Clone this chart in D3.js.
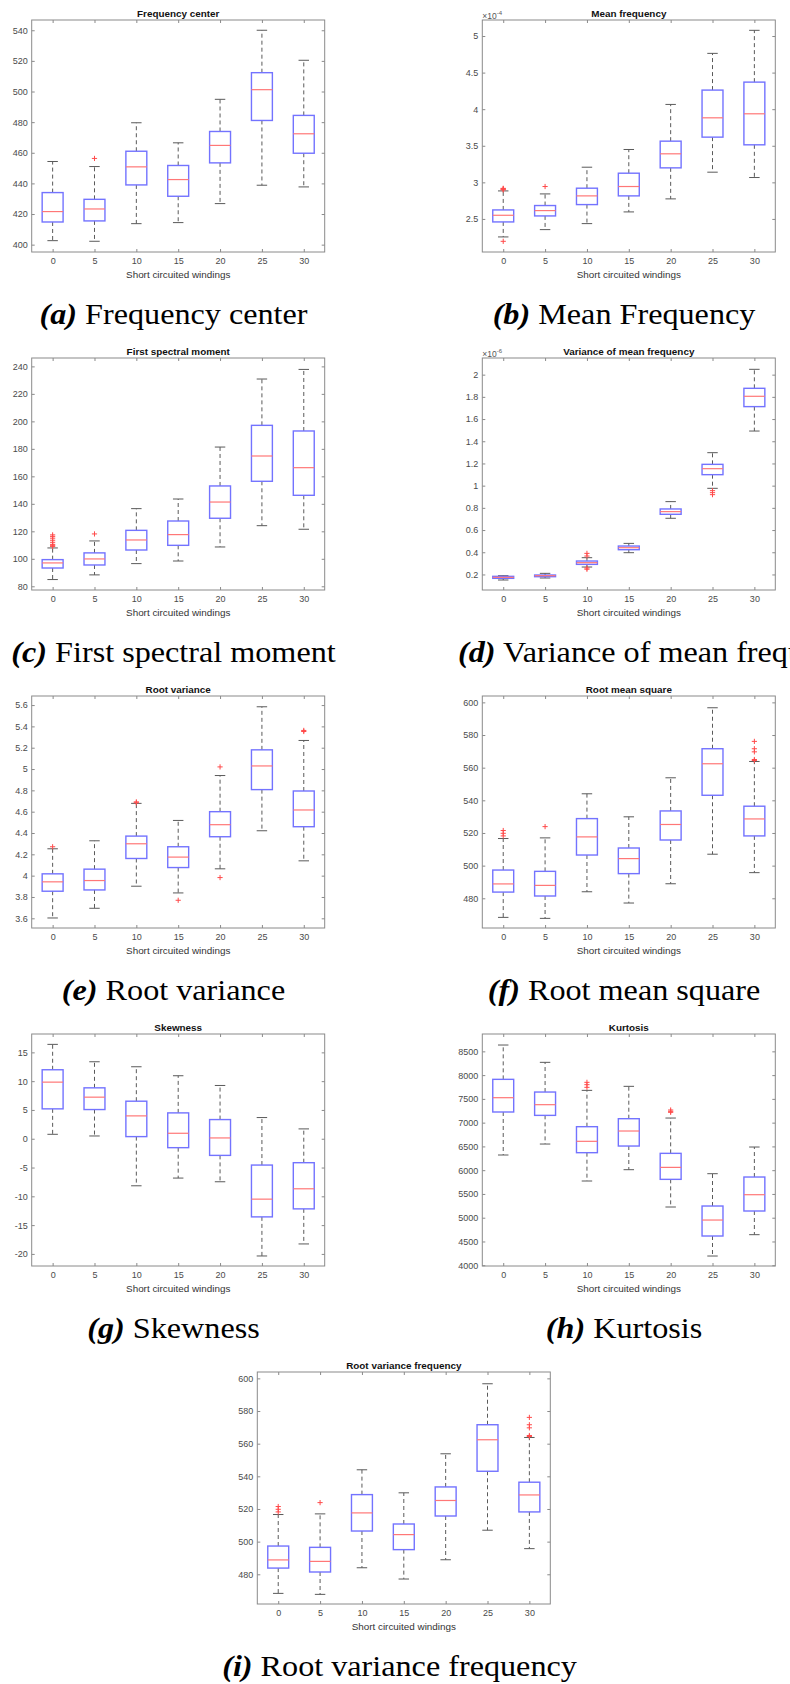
<!DOCTYPE html>
<html>
<head>
<meta charset="utf-8">
<script src="https://cdnjs.cloudflare.com/ajax/libs/d3/7.8.5/d3.min.js"></script>
<style>
  body { margin: 0; background: #fff; }
</style>
</head>
<body>
<svg id="chart"></svg>
<script>
// constants
const width = 790;
const height = 1684;

const groups = [0, 5, 10, 15, 20, 25, 30];

// per group: [lower whisker, q1, median, q3, upper whisker]
const freqCenter = [
  [402.6, 414.8, 421.6, 434.0, 454.3],
  [402.2, 415.5, 423.3, 429.6, 451.0],
  [413.7, 439.0, 450.8, 461.0, 479.6],
  [414.4, 431.6, 442.5, 451.7, 466.5],
  [426.8, 453.4, 464.8, 473.9, 494.9],
  [438.8, 481.1, 501.2, 512.3, 540.0],
  [437.7, 459.7, 472.4, 484.4, 520.4]
];
const freqCenterOut = [[], [456.3], [], [], [], [], []];
const freqCenterTicks = [400, 420, 440, 460, 480, 500, 520, 540];

// x 1e-4
const meanFreq = [
  [2.254, 2.459, 2.550, 2.623, 2.883],
  [2.354, 2.541, 2.614, 2.683, 2.842],
  [2.436, 2.696, 2.815, 2.920, 3.207],
  [2.596, 2.815, 2.943, 3.125, 3.449],
  [2.774, 3.198, 3.390, 3.563, 4.065],
  [3.139, 3.618, 3.882, 4.261, 4.763],
  [3.066, 3.513, 3.937, 4.370, 5.078]
];
const meanFreqOut = [[2.194, 2.897, 2.905, 2.912, 2.918], [2.943], [], [], [], [], []];
const meanFreqTicks = [2.5, 3, 3.5, 4, 4.5, 5];

const firstMoment = [
  [84.9, 93.3, 97.0, 99.4, 107.9],
  [88.3, 95.5, 99.9, 104.3, 113.0],
  [96.5, 106.4, 113.7, 120.7, 136.5],
  [98.4, 109.8, 117.6, 127.5, 143.5],
  [108.6, 129.5, 141.3, 153.0, 181.3],
  [124.1, 156.4, 174.8, 197.1, 230.8],
  [121.5, 146.2, 166.3, 193.0, 237.8]
];
const firstMomentOut = [[109.0, 109.8, 110.5, 112.0, 113.5, 115.0, 116.3, 117.4], [118.1], [], [], [], [], []];
const firstMomentTicks = [80, 100, 120, 140, 160, 180, 200, 220, 240];

// x 1e-6
const varMeanFreq = [
  [0.150, 0.165, 0.174, 0.183, 0.189],
  [0.168, 0.180, 0.189, 0.195, 0.210],
  [0.267, 0.291, 0.306, 0.321, 0.351],
  [0.396, 0.423, 0.441, 0.456, 0.480],
  [0.706, 0.742, 0.766, 0.790, 0.856],
  [0.976, 1.099, 1.153, 1.192, 1.297],
  [1.492, 1.712, 1.805, 1.877, 2.048]
];
const varMeanFreqOut = [[], [], [0.247, 0.258, 0.366, 0.390], [], [], [0.919, 0.937, 0.955], []];
const varMeanFreqTicks = [0.2, 0.4, 0.6, 0.8, 1, 1.2, 1.4, 1.6, 1.8, 2];

const rootVar = [
  [3.603, 3.854, 3.942, 4.017, 4.252],
  [3.694, 3.866, 3.954, 4.061, 4.327],
  [3.901, 4.161, 4.299, 4.371, 4.678],
  [3.838, 4.076, 4.174, 4.271, 4.518],
  [4.064, 4.365, 4.478, 4.600, 4.939],
  [4.421, 4.807, 5.029, 5.180, 5.584],
  [4.139, 4.459, 4.616, 4.794, 5.268]
];
const rootVarOut = [[4.271], [], [4.684, 4.692], [3.769], [3.982, 5.020], [], [5.352, 5.362]];
const rootVarTicks = [3.6, 3.8, 4, 4.2, 4.4, 4.6, 4.8, 5, 5.2, 5.4, 5.6];

const rms = [
  [468.3, 483.8, 488.8, 497.3, 516.6],
  [467.7, 481.4, 487.9, 496.5, 517.0],
  [484.0, 506.5, 517.6, 528.8, 544.0],
  [477.1, 495.1, 504.3, 510.8, 529.9],
  [488.9, 515.7, 525.2, 533.5, 553.8],
  [507.0, 543.1, 562.4, 571.6, 596.7],
  [495.7, 518.2, 528.6, 536.4, 563.8]
];
const rmsOut = [[518.2, 519.8, 521.5], [523.9], [], [], [], [], [564.4, 565.0, 569.7, 571.6, 576.1]];
const rmsTicks = [480, 500, 520, 540, 560, 580, 600];

const skew = [
  [0.77, 5.19, 9.83, 11.98, 16.39],
  [0.48, 5.07, 7.22, 8.84, 13.37],
  [-8.17, 0.37, 3.97, 6.52, 12.50],
  [-6.83, -1.55, 0.95, 4.49, 10.94],
  [-7.47, -2.89, 0.14, 3.33, 9.25],
  [-20.36, -13.57, -10.49, -4.57, 3.68],
  [-18.27, -12.18, -8.69, -4.16, 1.71]
];
const skewOut = [[], [], [], [], [], [], []];
const skewTicks = [-20, -15, -10, -5, 0, 5, 10, 15];

const kurt = [
  [6319, 7224, 7525, 7911, 8633],
  [6550, 7153, 7378, 7644, 8269],
  [5772, 6368, 6607, 6915, 7679],
  [6010, 6508, 6824, 7083, 7764],
  [5225, 5807, 6059, 6354, 7097],
  [4194, 4615, 4951, 5246, 5926],
  [4643, 5141, 5484, 5856, 6487]
];
const kurtOut = [[], [], [7743, 7799, 7848], [], [7217, 7238, 7266], [], []];
const kurtTicks = [4000, 4500, 5000, 5500, 6000, 6500, 7000, 7500, 8000, 8500];

// root variance frequency shows the same boxes as root mean square
const rootVarFreq = rms;
const rootVarFreqOut = rmsOut;

const panels = [
  { title: 'Frequency center', stats: freqCenter, out: freqCenterOut, ticks: freqCenterTicks, domain: [395.2, 546.7], col: 'L', row: 0, tag: '(a)', caption: 'Frequency center' },
  { title: 'Mean frequency', stats: meanFreq, out: meanFreqOut, ticks: meanFreqTicks, domain: [2.048, 5.219], col: 'R', row: 0, tag: '(b)', caption: 'Mean Frequency', exp: '-4' },
  { title: 'First spectral moment', stats: firstMoment, out: firstMomentOut, ticks: firstMomentTicks, domain: [77.3, 246.1], col: 'L', row: 1, tag: '(c)', caption: 'First spectral moment' },
  // this caption runs past the right edge in the original, left aligned
  { title: 'Variance of mean frequency', stats: varMeanFreq, out: varMeanFreqOut, ticks: varMeanFreqTicks, domain: [0.06, 2.15], col: 'R', row: 1, tag: '(d)', caption: 'Variance of mean frequency', exp: '-6', capStart: 458 },
  { title: 'Root variance', stats: rootVar, out: rootVarOut, ticks: rootVarTicks, domain: [3.509, 5.685], col: 'L', row: 2, tag: '(e)', caption: 'Root variance' },
  { title: 'Root mean square', stats: rms, out: rmsOut, ticks: rmsTicks, domain: [461.8, 603.9], col: 'R', row: 2, tag: '(f)', caption: 'Root mean square' },
  { title: 'Skewness', stats: skew, out: skewOut, ticks: skewTicks, domain: [-22.1, 18.19], col: 'L', row: 3, tag: '(g)', caption: 'Skewness' },
  { title: 'Kurtosis', stats: kurt, out: kurtOut, ticks: kurtTicks, domain: [3984, 8865], col: 'R', row: 3, tag: '(h)', caption: 'Kurtosis' },
  { title: 'Root variance frequency', stats: rootVarFreq, out: rootVarFreqOut, ticks: rmsTicks, domain: [461.8, 603.9], col: 'C', row: 4, tag: '(i)', caption: 'Root variance frequency' }
];

// layout
const plotW = 293;
const plotH = 232;
const rowStep = 338;
const colLeft = { L: 31.7, R: 482.3, C: 257.3 };
const captionX = { L: 173.5, R: 624, C: 399.5 };
const capStretch = 1.11;

const sansFont = "'Liberation Sans', Arial, sans-serif";
const serifFont = "'Liberation Serif', 'Times New Roman', serif";

const svg = d3.select('#chart')
  .attr('width', width)
  .attr('height', height)
  .style('display', 'block');

svg.append('rect').attr('width', width).attr('height', height).attr('fill', '#fff');

panels.forEach(p => {
  const x0 = colLeft[p.col];
  const x1 = x0 + plotW;
  const y0 = 20 + rowStep * p.row;
  const y1 = y0 + plotH;

  const x = d3.scalePoint().domain(groups).range([x0, x1]).padding(0.5);
  const y = d3.scaleLinear().domain(p.domain).range([y1, y0]);
  const boxW = x.step() * 0.5;

  const g = svg.append('g');

  // axes with inward ticks on all sides
  const axisColor = '#8a8a8a';
  const styleAxis = sel => {
    sel.select('.domain').remove();
    sel.selectAll('line').attr('stroke', axisColor);
    sel.selectAll('text')
      .attr('fill', '#4a4a4a')
      .style('font-family', sansFont)
      .style('font-size', '9px');
  };

  g.append('g')
    .attr('transform', `translate(${x0},0)`)
    .call(d3.axisLeft(y).tickValues(p.ticks).tickSize(-3).tickPadding(4).tickFormat(d => String(d)))
    .call(styleAxis);
  g.append('g')
    .attr('transform', `translate(${x1},0)`)
    .call(d3.axisRight(y).tickValues(p.ticks).tickSize(-3).tickFormat(''))
    .call(styleAxis);
  g.append('g')
    .attr('transform', `translate(0,${y1})`)
    .call(d3.axisBottom(x).tickSize(-3).tickPadding(6))
    .call(styleAxis);
  g.append('g')
    .attr('transform', `translate(0,${y0})`)
    .call(d3.axisTop(x).tickSize(-3).tickFormat(''))
    .call(styleAxis);

  g.append('rect')
    .attr('x', x0).attr('y', y0)
    .attr('width', plotW).attr('height', plotH)
    .attr('fill', 'none')
    .attr('stroke', axisColor)
    .attr('stroke-width', 1);

  // title and labels (1.1x the tick font, as matlab does)
  g.append('text')
    .attr('x', (x0 + x1) / 2)
    .attr('y', y0 - 3.5)
    .attr('text-anchor', 'middle')
    .style('font-family', sansFont)
    .style('font-size', '9.9px')
    .style('font-weight', 'bold')
    .attr('fill', '#111')
    .text(p.title);

  g.append('text')
    .attr('x', (x0 + x1) / 2)
    .attr('y', y1 + 26.3)
    .attr('text-anchor', 'middle')
    .style('font-family', sansFont)
    .style('font-size', '9.9px')
    .attr('fill', '#333')
    .text('Short circuited windings');

  if (p.exp) {
    const t = g.append('text')
      .attr('x', x0)
      .attr('y', y0 - 1.5)
      .style('font-family', sansFont)
      .style('font-size', '8.5px')
      .attr('fill', '#555');
    t.append('tspan').text('\u00d710');
    t.append('tspan').attr('dy', -4).style('font-size', '6px').text(p.exp);
  }

  // boxes
  const boxes = g.selectAll('.box')
    .data(p.stats.map((s, i) => ({ s, grp: groups[i], out: p.out[i] })))
    .enter().append('g')
    .attr('class', 'box');

  // whiskers
  boxes.append('line')
    .attr('x1', d => x(d.grp)).attr('x2', d => x(d.grp))
    .attr('y1', d => y(d.s[3])).attr('y2', d => y(d.s[4]))
    .attr('stroke', '#5a5a5a').attr('stroke-dasharray', '4,3');
  boxes.append('line')
    .attr('x1', d => x(d.grp)).attr('x2', d => x(d.grp))
    .attr('y1', d => y(d.s[1])).attr('y2', d => y(d.s[0]))
    .attr('stroke', '#5a5a5a').attr('stroke-dasharray', '4,3');

  // caps
  [0, 4].forEach(k => {
    boxes.append('line')
      .attr('x1', d => x(d.grp) - boxW / 4).attr('x2', d => x(d.grp) + boxW / 4)
      .attr('y1', d => y(d.s[k])).attr('y2', d => y(d.s[k]))
      .attr('stroke', '#5a5a5a');
  });

  boxes.append('rect')
    .attr('x', d => x(d.grp) - boxW / 2)
    .attr('y', d => y(d.s[3]))
    .attr('width', boxW)
    .attr('height', d => y(d.s[1]) - y(d.s[3]))
    .attr('fill', 'none')
    .attr('stroke', '#7373ff')
    .attr('stroke-width', 1.4);

  boxes.append('line')
    .attr('x1', d => x(d.grp) - boxW / 2).attr('x2', d => x(d.grp) + boxW / 2)
    .attr('y1', d => y(d.s[2])).attr('y2', d => y(d.s[2]))
    .attr('stroke', '#ff7777')
    .attr('stroke-width', 1.2);

  // outliers as red plus signs
  boxes.each(function (d) {
    d3.select(this).selectAll('.out')
      .data(d.out)
      .enter().append('path')
      .attr('class', 'out')
      .attr('d', v => {
        const cx = x(d.grp), cy = y(v), r = 2.6;
        return `M${cx - r},${cy}H${cx + r}M${cx},${cy - r}V${cy + r}`;
      })
      .attr('stroke', '#ff4a4a')
      .attr('stroke-width', 1);
  });

  // caption below the subfigure
  const capY = 323.5 + rowStep * p.row;
  const cap = svg.append('text')
    .attr('text-anchor', p.capStart ? 'start' : 'middle')
    .attr('transform', `translate(${p.capStart || captionX[p.col]},${capY}) scale(${capStretch},1)`)
    .style('font-family', serifFont)
    .style('font-size', '29px')
    .attr('fill', '#000');
  cap.append('tspan')
    .style('font-weight', 'bold')
    .style('font-style', 'italic')
    .text(p.tag);
  cap.append('tspan').text(' ' + p.caption);
});
</script>
</body>
</html>
